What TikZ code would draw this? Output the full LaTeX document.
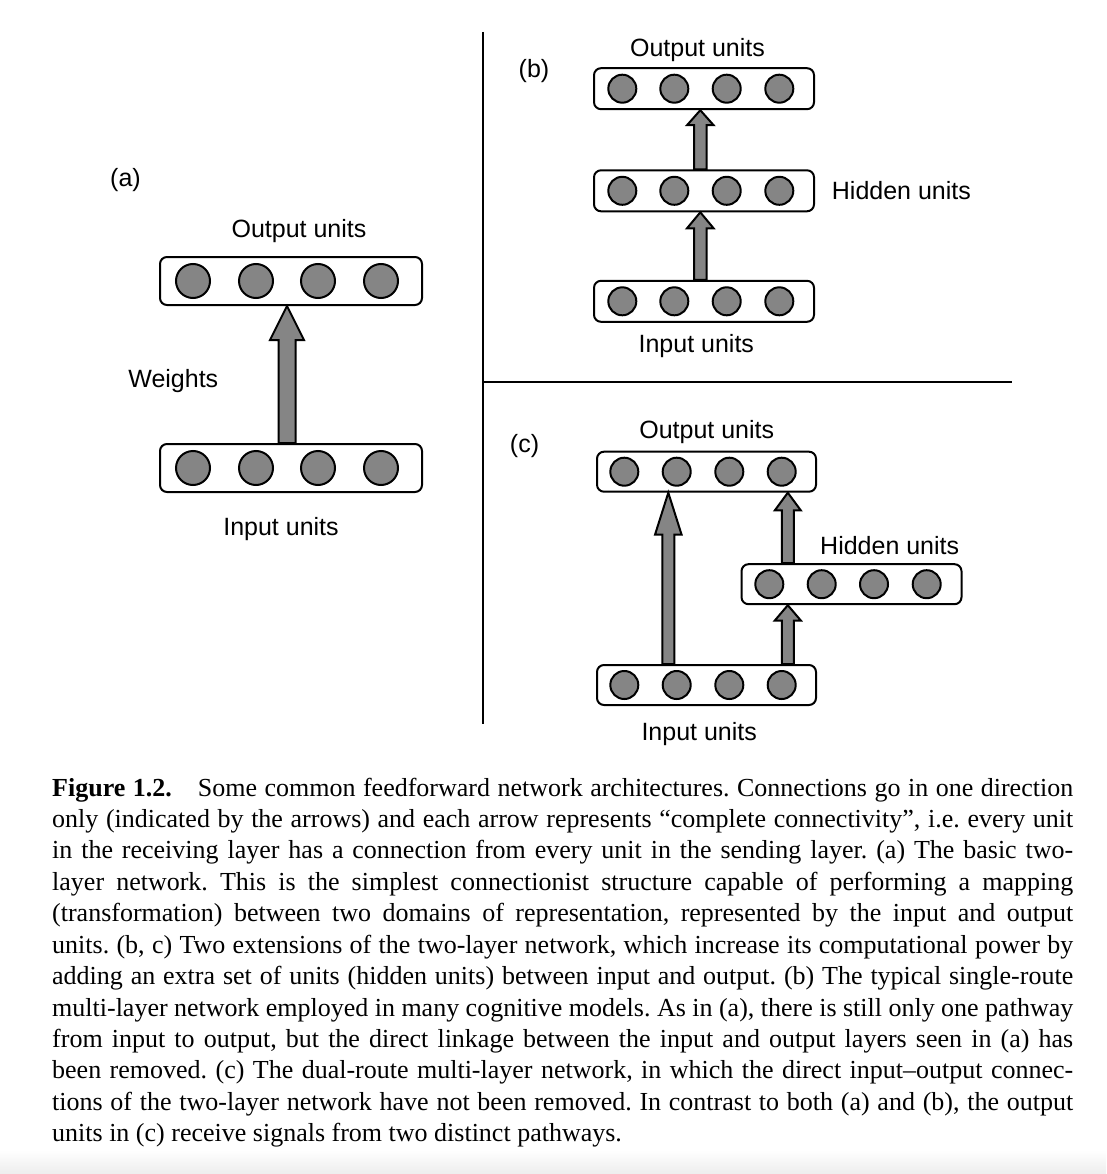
\documentclass[tikz,border=0pt]{standalone}
\usepackage{fontspec}
\setmainfont{Liberation Serif}
\newfontfamily\labelfont{Liberation Sans}
\usetikzlibrary{calc}
\definecolor{unitgray}{gray}{0.52}
\tikzset{
  layerbox/.style={draw, line width=2pt, rounded corners=7pt, fill=white, inner sep=0pt},
  unit/.style={circle, draw, line width=2pt, fill=unitgray, inner sep=0pt},
  lbl/.style={font=\labelfont\fontsize{25}{30}\selectfont, inner sep=0pt, anchor=base},
  fatarrow/.style={draw, line width=2pt, fill=unitgray, line join=miter},
  divider/.style={line width=2.5pt}
}
% #1 name, #2 cx, #3 cy, #4 width, #5 height, #6 unit size, #7 unit x list
\newcommand\layerrow[7]{%
  \node[layerbox, minimum width=#4pt, minimum height=#5pt] (#1) at (#2,#3) {};
  \foreach \ux [count=\i] in {#7} \node[unit, minimum size=#6pt] (#1-\i) at (\ux,#3) {};
}
% #1 tip, #2 tail, #3 shaft half width, #4 head half width, #5 head length
\newcommand\fatarr[5]{%
  \filldraw[fatarrow] let \p1=(#1), \p2=(#2) in
    (\x1,\y1) -- (\x1+#4pt,\y1-#5pt) -- (\x1+#3pt,\y1-#5pt) -- (\x1+#3pt,\y2)
    -- (\x1-#3pt,\y2) -- (\x1-#3pt,\y1-#5pt) -- (\x1-#4pt,\y1-#5pt) -- cycle;
}
\begin{document}
\begin{tikzpicture}[x=1pt,y=-1pt]
\useasboundingbox (0,0) rectangle (1106,1174);
\shade[top color=white, bottom color=black!7] (0,1150) rectangle (1106,1174);

% dividers
\coordinate (vtop) at (483,32);
\coordinate (vbot) at (483,724);
\coordinate (hleft) at (483,382);
\coordinate (hright) at (1012,382);
\draw[divider] (vtop) -- (vbot);
\draw[divider] (hleft) -- (hright);

% ---------- (a)
\layerrow{aout}{291}{281}{262}{48}{34}{193,256,318,381}
\layerrow{ain}{291}{468}{262}{48}{34}{193,256,318,381}
\coordinate (ax) at (287,0);
\fatarr{ax |- aout.south}{ax |- ain.north}{8.5}{17}{34}
\node[lbl] (alab) at (125.5,187) {(a)};
\node[lbl] (aoutlab) at (299,237) {Output units};
\node[lbl] (aweights) at (173.3,387) {Weights};
\node[lbl] (ainlab) at (281,535) {Input units};

% ---------- (b)
\layerrow{bout}{704}{88.7}{220}{41}{28}{622.3,674.3,726.7,779.3}
\layerrow{bhid}{704}{190.8}{220}{41}{28}{622.3,674.3,726.7,779.3}
\layerrow{bin}{704}{301.3}{220}{41}{28}{622.3,674.3,726.7,779.3}
\coordinate (bx) at (700.3,0);
\fatarr{bx |- bout.south}{bx |- bhid.north}{6.3}{13.3}{15}
\fatarr{bx |- bhid.south}{bx |- bin.north}{6.3}{13.3}{16}
\node[lbl] (blab) at (534,78) {(b)};
\node[lbl] (boutlab) at (697.5,56.5) {Output units};
\node[lbl, anchor=base west] (bhidlab) at (831.7,200) {Hidden units};
\node[lbl] (binlab) at (696.3,352) {Input units};

% ---------- (c)
\layerrow{cout}{706.5}{471.7}{219}{40}{28}{624.3,676.7,729.3,781.7}
\layerrow{cin}{706.5}{685}{219}{40}{28}{624.3,676.7,729.3,781.7}
\layerrow{chid}{851.5}{584.2}{220}{40}{28}{769.3,821.7,874,926.7}
\coordinate (cx1) at (668.3,0);
\coordinate (cx2) at (787.8,0);
\fatarr{cx1 |- cout.south}{cx1 |- cin.north}{6}{13.3}{42}
\fatarr{cx2 |- cout.south}{cx2 |- chid.north}{6}{13}{17.7}
\fatarr{cx2 |- chid.south}{cx2 |- cin.north}{6}{13}{15.3}
\node[lbl] (clab) at (524.5,452) {(c)};
\node[lbl] (coutlab) at (706.7,438) {Output units};
\node[lbl, anchor=base west] (chidlab) at (820,554) {Hidden units};
\node[lbl] (cinlab) at (699.2,740) {Input units};

% ---------- caption
\node[anchor=base west, inner sep=0pt, text width=1021pt, align=justify,
      font=\fontsize{26}{31.43}\selectfont] (caption) at (52,796)
{\frenchspacing\tolerance=10000\hyphenpenalty=10000\emergencystretch=20pt
\textbf{Figure 1.2.}\quad Some common feedforward network architectures. Connections go in one direction\linebreak
only (indicated by the arrows) and each arrow represents “complete connectivity”, i.e. every unit\linebreak
in the receiving layer has a connection from every unit in the sending layer. (a) The basic two-\linebreak
layer network. This is the simplest connectionist structure capable of performing a mapping\linebreak
(transformation) between two domains of representation, represented by the input and output\linebreak
units. (b, c) Two extensions of the two-layer network, which increase its computational power by\linebreak
adding an extra set of units (hidden units) between input and output. (b) The typical single-route\linebreak
multi-layer network employed in many cognitive models. As in (a), there is still only one pathway\linebreak
from input to output, but the direct linkage between the input and output layers seen in (a) has\linebreak
been removed. (c) The dual-route multi-layer network, in which the direct input–output connec-\linebreak
tions of the two-layer network have not been removed. In contrast to both (a) and (b), the output\linebreak
units in (c) receive signals from two distinct pathways.};
\end{tikzpicture}
\end{document}
